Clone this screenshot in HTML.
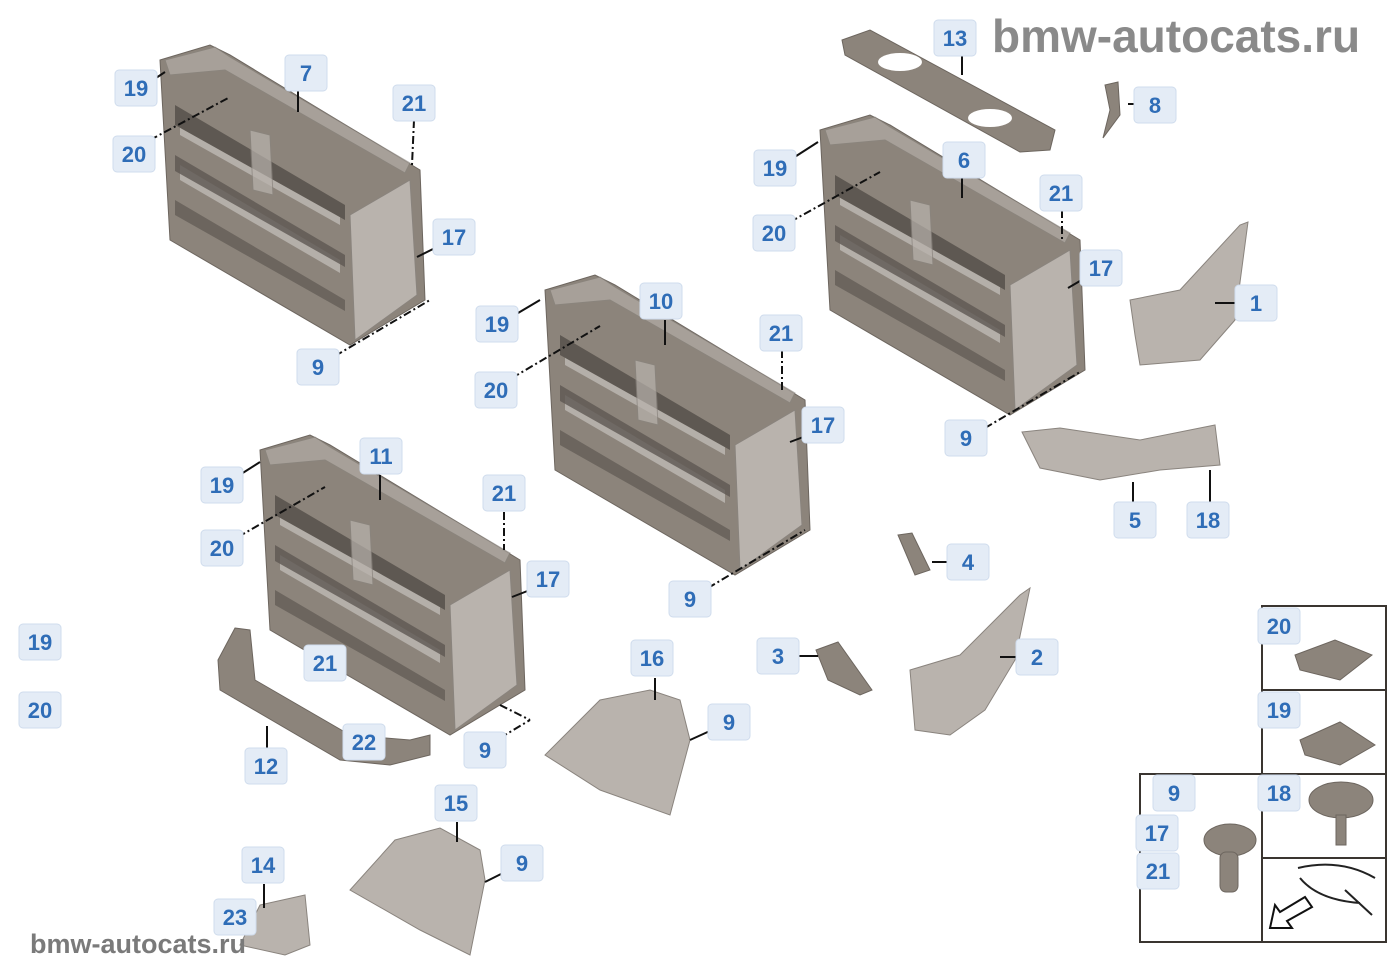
<!DOCTYPE html>
<html><head><meta charset="utf-8"><style>
html,body{margin:0;padding:0;background:#fff}
svg{display:block}
.lb rect{fill:#e4ecf6;stroke:#cfdced;stroke-width:1}
.lb text{font-family:"Liberation Sans",sans-serif;font-weight:bold;font-size:22px;fill:#2f6db7;text-anchor:middle}
.ld{stroke:#111;stroke-width:2;fill:none}
.dd{stroke:#111;stroke-width:2;fill:none;stroke-dasharray:8 3 2 3}
.p{fill:#8c847b;stroke:#6d665f;stroke-width:1}
.pl{fill:#b9b3ad;stroke:#8a847e;stroke-width:1}
.dk{fill:#5e5852}
</style></head><body>
<svg width="1400" height="980" viewBox="0 0 1400 980" xmlns="http://www.w3.org/2000/svg">
<defs>
<g id="frame">
  <polygon class="p" points="5,15 55,0 75,10 265,125 270,255 195,300 15,195 10,105"/>
  <polygon fill="#fff" opacity="0.35" points="25,70 185,165 185,180 25,90"/>
  <polygon fill="#fff" opacity="0.35" points="25,120 185,215 185,228 25,135"/>
  <polygon class="pl" points="195,170 255,135 262,250 200,295"/>
  <polygon class="dk" points="20,60 190,160 190,175 20,80"/>
  <polygon class="dk" points="20,110 190,210 190,222 20,126" opacity="0.8"/>
  <polygon class="dk" points="20,155 190,255 190,266 20,170" opacity="0.7"/>
  <polygon class="pl" points="95,85 115,90 118,150 98,145" opacity="0.7"/>
  <polygon class="pl" points="10,15 60,2 75,12 255,118 250,128 70,25 15,30" opacity="0.6"/>
</g>
</defs>

<text x="992" y="52" font-family="Liberation Sans,sans-serif" font-weight="bold" font-size="46" fill="#8a8a8a">bmw-autocats.ru</text>

<use href="#frame" x="155" y="45"/>
<use href="#frame" x="540" y="275"/>
<use href="#frame" x="255" y="435"/>
<use href="#frame" x="815" y="115"/>

<polygon class="p" points="842,40 870,30 1055,130 1050,150 1020,152 845,55"/>
<ellipse cx="900" cy="62" rx="22" ry="9" fill="#fff"/><ellipse cx="990" cy="118" rx="22" ry="9" fill="#fff"/>
<polygon class="p" points="1105,85 1118,82 1120,115 1103,138 1110,110"/>
<polygon class="pl" points="1130,300 1180,290 1240,225 1248,222 1235,320 1200,360 1140,365 1135,335"/>
<polygon class="pl" points="1022,432 1060,428 1140,440 1215,425 1220,465 1160,470 1100,480 1040,468"/>
<polygon class="p" points="898,535 912,533 930,570 915,575"/>
<polygon class="p" points="816,650 838,642 872,690 860,695 828,680"/>
<polygon class="pl" points="910,670 960,655 1020,595 1030,588 1015,660 985,710 950,735 915,730"/>
<polygon class="pl" points="600,700 650,690 680,700 690,740 670,815 600,790 545,755"/>
<polygon class="pl" points="395,840 440,828 480,850 485,880 470,955 420,930 350,890"/>
<polygon class="p" points="235,628 250,630 255,680 350,735 410,740 430,735 430,755 390,765 340,760 220,690 218,660"/>
<polygon class="pl" points="260,905 305,895 310,945 285,955 240,945"/>

<g>
<line class="ld" x1="298" y1="90" x2="298" y2="112"/>
<line class="ld" x1="150" y1="82" x2="165" y2="72"/>
<line class="dd" x1="150" y1="140" x2="230" y2="97"/>
<line class="dd" x1="414" y1="120" x2="412" y2="165"/>
<line class="ld" x1="435" y1="248" x2="417" y2="257"/>
<line class="dd" x1="335" y1="356" x2="430" y2="300"/>
<line class="ld" x1="962" y1="55" x2="962" y2="75"/>
<line class="ld" x1="1128" y1="104" x2="1138" y2="104"/>
<line class="ld" x1="790" y1="160" x2="818" y2="142"/>
<line class="dd" x1="790" y1="222" x2="880" y2="172"/>
<line class="ld" x1="962" y1="178" x2="962" y2="198"/>
<line class="dd" x1="1062" y1="210" x2="1062" y2="240"/>
<line class="ld" x1="1085" y1="278" x2="1068" y2="288"/>
<line class="ld" x1="1215" y1="303" x2="1240" y2="303"/>
<line class="dd" x1="985" y1="428" x2="1080" y2="372"/>
<line class="ld" x1="1133" y1="482" x2="1133" y2="503"/>
<line class="ld" x1="1210" y1="470" x2="1210" y2="503"/>
<line class="ld" x1="513" y1="316" x2="540" y2="300"/>
<line class="dd" x1="512" y1="378" x2="600" y2="326"/>
<line class="ld" x1="665" y1="320" x2="665" y2="345"/>
<line class="dd" x1="782" y1="350" x2="782" y2="393"/>
<line class="ld" x1="806" y1="436" x2="790" y2="442"/>
<line class="dd" x1="708" y1="588" x2="805" y2="530"/>
<line class="ld" x1="380" y1="475" x2="380" y2="500"/>
<line class="ld" x1="238" y1="476" x2="260" y2="462"/>
<line class="dd" x1="238" y1="537" x2="325" y2="487"/>
<line class="dd" x1="504" y1="512" x2="504" y2="550"/>
<line class="ld" x1="530" y1="590" x2="512" y2="597"/>
<line class="dd" x1="500" y1="738" x2="530" y2="720"/>
<line class="dd" x1="500" y1="705" x2="530" y2="720"/>
<line class="ld" x1="267" y1="726" x2="267" y2="748"/>
<line class="ld" x1="932" y1="562" x2="952" y2="562"/>
<line class="ld" x1="786" y1="656" x2="818" y2="656"/>
<line class="ld" x1="1000" y1="657" x2="1018" y2="657"/>
<line class="ld" x1="655" y1="678" x2="655" y2="700"/>
<line class="ld" x1="712" y1="730" x2="690" y2="740"/>
<line class="ld" x1="457" y1="822" x2="457" y2="842"/>
<line class="ld" x1="505" y1="872" x2="485" y2="882"/>
<line class="ld" x1="264" y1="884" x2="264" y2="908"/>
</g>

<g fill="none" stroke="#3a3530" stroke-width="2">
<rect x="1262" y="606" width="124" height="336"/>
<line x1="1262" y1="690" x2="1386" y2="690"/>
<line x1="1262" y1="774" x2="1386" y2="774"/>
<line x1="1262" y1="858" x2="1386" y2="858"/>
<rect x="1140" y="774" width="122" height="168"/>
</g>
<polygon class="p" points="1295,655 1335,640 1372,655 1340,680 1300,670"/>
<polygon class="p" points="1300,740 1340,722 1375,745 1340,765 1305,755"/>
<ellipse cx="1341" cy="800" rx="32" ry="18" class="p"/><rect x="1336" y="815" width="10" height="30" class="p"/>
<ellipse cx="1230" cy="840" rx="26" ry="16" class="p"/><rect x="1220" y="852" width="18" height="40" rx="6" class="p"/>
<path d="M1298,868 Q1340,858 1375,878 M1300,878 Q1318,900 1360,903 M1345,890 L1372,915" stroke="#222" stroke-width="2" fill="none"/>
<polygon points="1270,928 1275,905 1280,912 1305,897 1312,907 1287,921 1292,928" stroke="#111" stroke-width="2" fill="#fff"/>

<g class="lb">
<g transform="translate(136,88)"><rect x="-21" y="-18" width="42" height="36" rx="4"/><text y="8">19</text></g>
<g transform="translate(306,73)"><rect x="-21" y="-18" width="42" height="36" rx="4"/><text y="8">7</text></g>
<g transform="translate(414,103)"><rect x="-21" y="-18" width="42" height="36" rx="4"/><text y="8">21</text></g>
<g transform="translate(134,154)"><rect x="-21" y="-18" width="42" height="36" rx="4"/><text y="8">20</text></g>
<g transform="translate(454,237)"><rect x="-21" y="-18" width="42" height="36" rx="4"/><text y="8">17</text></g>
<g transform="translate(318,367)"><rect x="-21" y="-18" width="42" height="36" rx="4"/><text y="8">9</text></g>
<g transform="translate(955,38)"><rect x="-21" y="-18" width="42" height="36" rx="4"/><text y="8">13</text></g>
<g transform="translate(1155,105)"><rect x="-21" y="-18" width="42" height="36" rx="4"/><text y="8">8</text></g>
<g transform="translate(775,168)"><rect x="-21" y="-18" width="42" height="36" rx="4"/><text y="8">19</text></g>
<g transform="translate(964,160)"><rect x="-21" y="-18" width="42" height="36" rx="4"/><text y="8">6</text></g>
<g transform="translate(1061,193)"><rect x="-21" y="-18" width="42" height="36" rx="4"/><text y="8">21</text></g>
<g transform="translate(774,233)"><rect x="-21" y="-18" width="42" height="36" rx="4"/><text y="8">20</text></g>
<g transform="translate(1101,268)"><rect x="-21" y="-18" width="42" height="36" rx="4"/><text y="8">17</text></g>
<g transform="translate(1256,303)"><rect x="-21" y="-18" width="42" height="36" rx="4"/><text y="8">1</text></g>
<g transform="translate(966,438)"><rect x="-21" y="-18" width="42" height="36" rx="4"/><text y="8">9</text></g>
<g transform="translate(1135,520)"><rect x="-21" y="-18" width="42" height="36" rx="4"/><text y="8">5</text></g>
<g transform="translate(1208,520)"><rect x="-21" y="-18" width="42" height="36" rx="4"/><text y="8">18</text></g>
<g transform="translate(497,324)"><rect x="-21" y="-18" width="42" height="36" rx="4"/><text y="8">19</text></g>
<g transform="translate(661,301)"><rect x="-21" y="-18" width="42" height="36" rx="4"/><text y="8">10</text></g>
<g transform="translate(781,333)"><rect x="-21" y="-18" width="42" height="36" rx="4"/><text y="8">21</text></g>
<g transform="translate(496,390)"><rect x="-21" y="-18" width="42" height="36" rx="4"/><text y="8">20</text></g>
<g transform="translate(823,425)"><rect x="-21" y="-18" width="42" height="36" rx="4"/><text y="8">17</text></g>
<g transform="translate(690,599)"><rect x="-21" y="-18" width="42" height="36" rx="4"/><text y="8">9</text></g>
<g transform="translate(381,456)"><rect x="-21" y="-18" width="42" height="36" rx="4"/><text y="8">11</text></g>
<g transform="translate(222,485)"><rect x="-21" y="-18" width="42" height="36" rx="4"/><text y="8">19</text></g>
<g transform="translate(504,493)"><rect x="-21" y="-18" width="42" height="36" rx="4"/><text y="8">21</text></g>
<g transform="translate(222,548)"><rect x="-21" y="-18" width="42" height="36" rx="4"/><text y="8">20</text></g>
<g transform="translate(548,579)"><rect x="-21" y="-18" width="42" height="36" rx="4"/><text y="8">17</text></g>
<g transform="translate(325,663)"><rect x="-21" y="-18" width="42" height="36" rx="4"/><text y="8">21</text></g>
<g transform="translate(364,742)"><rect x="-21" y="-18" width="42" height="36" rx="4"/><text y="8">22</text></g>
<g transform="translate(485,750)"><rect x="-21" y="-18" width="42" height="36" rx="4"/><text y="8">9</text></g>
<g transform="translate(266,766)"><rect x="-21" y="-18" width="42" height="36" rx="4"/><text y="8">12</text></g>
<g transform="translate(40,642)"><rect x="-21" y="-18" width="42" height="36" rx="4"/><text y="8">19</text></g>
<g transform="translate(40,710)"><rect x="-21" y="-18" width="42" height="36" rx="4"/><text y="8">20</text></g>
<g transform="translate(968,562)"><rect x="-21" y="-18" width="42" height="36" rx="4"/><text y="8">4</text></g>
<g transform="translate(778,656)"><rect x="-21" y="-18" width="42" height="36" rx="4"/><text y="8">3</text></g>
<g transform="translate(1037,657)"><rect x="-21" y="-18" width="42" height="36" rx="4"/><text y="8">2</text></g>
<g transform="translate(652,658)"><rect x="-21" y="-18" width="42" height="36" rx="4"/><text y="8">16</text></g>
<g transform="translate(729,722)"><rect x="-21" y="-18" width="42" height="36" rx="4"/><text y="8">9</text></g>
<g transform="translate(456,803)"><rect x="-21" y="-18" width="42" height="36" rx="4"/><text y="8">15</text></g>
<g transform="translate(522,863)"><rect x="-21" y="-18" width="42" height="36" rx="4"/><text y="8">9</text></g>
<g transform="translate(263,865)"><rect x="-21" y="-18" width="42" height="36" rx="4"/><text y="8">14</text></g>
<g transform="translate(235,917)"><rect x="-21" y="-18" width="42" height="36" rx="4"/><text y="8">23</text></g>
<g transform="translate(1279,626)"><rect x="-21" y="-18" width="42" height="36" rx="4"/><text y="8">20</text></g>
<g transform="translate(1279,710)"><rect x="-21" y="-18" width="42" height="36" rx="4"/><text y="8">19</text></g>
<g transform="translate(1279,793)"><rect x="-21" y="-18" width="42" height="36" rx="4"/><text y="8">18</text></g>
<g transform="translate(1174,793)"><rect x="-21" y="-18" width="42" height="36" rx="4"/><text y="8">9</text></g>
<g transform="translate(1157,833)"><rect x="-21" y="-18" width="42" height="36" rx="4"/><text y="8">17</text></g>
<g transform="translate(1158,871)"><rect x="-21" y="-18" width="42" height="36" rx="4"/><text y="8">21</text></g>
</g>

<text x="30" y="953" font-family="Liberation Sans,sans-serif" font-weight="bold" font-size="27" fill="#7a7a7a">bmw-autocats.ru</text>
</svg>
</body></html>
